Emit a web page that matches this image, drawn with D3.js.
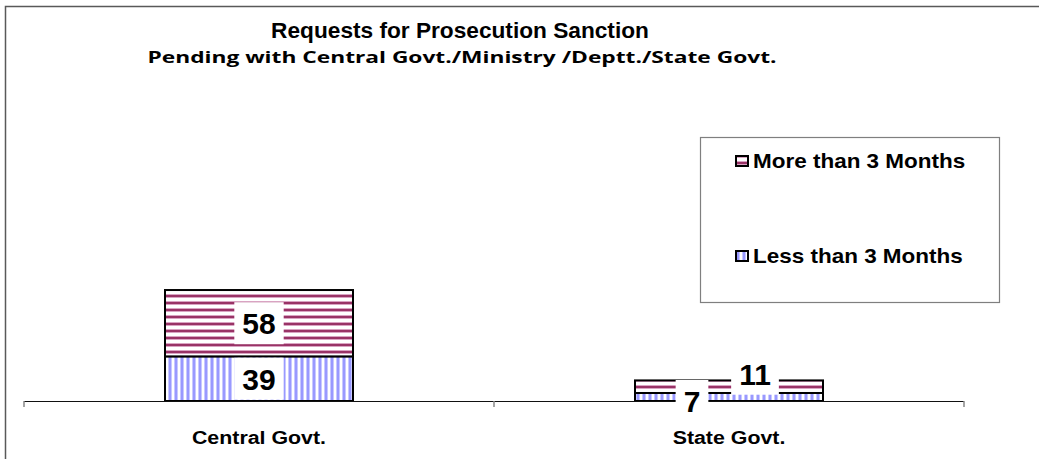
<!DOCTYPE html>
<html>
<head>
<meta charset="utf-8">
<script src="https://cdn.jsdelivr.net/npm/d3@7"></script>
<style>
  body { margin: 0; background: #fff; }
  svg { display: block; font-family: "Liberation Sans", Arial, sans-serif; }
</style>
</head>
<body>
<svg id="chart" width="1039" height="459"></svg>
<script>
// data
const categories = ["Central Govt.", "State Govt."];
const lessThan3 = [39, 7];
const moreThan3 = [58, 11];
const seriesNames = ["Less than 3 Months", "More than 3 Months"];

const svg = d3.select('#chart');
const W = 1039, H = 459;

// stretch text horizontally, the source image is a bit wide
function stretch(sel, factor){
    sel.each(function(){
        let w = this.getComputedTextLength();
        d3.select(this).attr('textLength', w * factor).attr('lengthAdjust', 'spacingAndGlyphs');
    });
}

// patterns
const defs = svg.append('defs');
let hp = defs.append('pattern').attr('id', 'hstripe').attr('patternUnits', 'userSpaceOnUse')
    .attr('width', 8).attr('height', 7);
hp.append('rect').attr('width', 8).attr('height', 7).attr('fill', '#fff');
hp.append('rect').attr('y', 0).attr('width', 8).attr('height', 1).attr('fill', '#d9a3c2');
hp.append('rect').attr('y', 1).attr('width', 8).attr('height', 2).attr('fill', '#993366');
hp.append('rect').attr('y', 3).attr('width', 8).attr('height', 1).attr('fill', '#d9a3c2');

let vp = defs.append('pattern').attr('id', 'vstripe').attr('patternUnits', 'userSpaceOnUse')
    .attr('width', 6).attr('height', 8);
vp.append('rect').attr('width', 6).attr('height', 8).attr('fill', '#fff');
vp.append('rect').attr('x', 0).attr('width', 1).attr('height', 8).attr('fill', '#c8c8ff');
vp.append('rect').attr('x', 1).attr('width', 2).attr('height', 8).attr('fill', '#9999ff');
vp.append('rect').attr('x', 3).attr('width', 1).attr('height', 8).attr('fill', '#c8c8ff');

const fills = {"Less than 3 Months": 'url(#vstripe)', "More than 3 Months": 'url(#hstripe)'};

// outer frame
svg.append('path').attr('d', `M5.5,${H} V6.5 H${W}`)
    .attr('fill', 'none').attr('stroke', '#595959').attr('stroke-width', 1.5);

// titles
let title = svg.append('text').attr('x', 460).attr('y', 38).attr('text-anchor', 'middle')
    .style('font-size', '22px').style('font-weight', 'bold').text('Requests for Prosecution Sanction');
stretch(title, 1.03);
let sub = svg.append('text').attr('x', 462).attr('y', 63).attr('text-anchor', 'middle')
    .style('font-family', '"Open Sans", sans-serif')
    .style('font-size', '16px').style('font-weight', 'bold')
    .text('Pending with Central Govt./Ministry /Deptt./State Govt.');
sub.attr('textLength', 629).attr('lengthAdjust', 'spacingAndGlyphs');

// scales
const x = d3.scaleBand().domain(categories).range([24, 964]).paddingInner(0.6).paddingOuter(0.3);
const y = d3.scaleLinear().domain([0, 100]).range([401, 286.6]);

const rows = categories.map((c, i) => ({cat: c, less: lessThan3[i], more: moreThan3[i]}));
const stack = d3.stack().keys(['less', 'more'])(rows);

// bars
let layers = svg.append('g').selectAll('g').data(stack).enter().append('g')
    .attr('fill', (d, i) => fills[seriesNames[i]]);
layers.selectAll('rect').data(d => d).enter().append('rect')
    .attr('x', d => x(d.data.cat))
    .attr('width', x.bandwidth())
    .attr('y', d => y(d[1]))
    .attr('height', d => y(d[0]) - y(d[1]))
    .attr('stroke', '#000').attr('stroke-width', 2);

// axis
const axisG = svg.append('g');
axisG.append('line').attr('x1', 24).attr('x2', 964).attr('y1', 401.5).attr('y2', 401.5)
    .attr('stroke', '#111').attr('stroke-width', 1.2);
const step = x.step();
[24, 24 + step, 24 + 2 * step].forEach(tx => {
    axisG.append('line').attr('x1', tx).attr('x2', tx).attr('y1', 401).attr('y2', 407)
        .attr('stroke', '#888').attr('stroke-width', 1.5);
});
let catLabels = axisG.selectAll('text.cat').data(categories).enter().append('text')
    .attr('x', d => x(d) + x.bandwidth() / 2).attr('y', 444)
    .attr('text-anchor', 'middle')
    .style('font-size', '17.5px').style('font-weight', 'bold')
    .text(d => d);
stretch(catLabels, 1.22);

// data labels
const nudge = {"State Govt.": {less: [-37, 4], more: [26, -13]}};
stack.forEach(layer => {
    layer.forEach(d => {
        let key = layer.key;
        let off = (nudge[d.data.cat] || {})[key] || [0, 0];
        let cx = x(d.data.cat) + x.bandwidth() / 2 + off[0];
        let cy = (y(d[0]) + y(d[1])) / 2 + off[1];
        let g = svg.append('g');
        let t = g.append('text').attr('x', cx).attr('y', cy + 11)
            .attr('text-anchor', 'middle')
            .style('font-size', '30px').style('font-weight', 'bold')
            .text(d.data[key]);
        let bb = t.node().getBBox();
        g.insert('rect', 'text').attr('x', bb.x - 8).attr('y', cy - 21)
            .attr('width', bb.width + 16).attr('height', 42).attr('fill', '#fff');
    });
});

// legend
const lg = svg.append('g');
lg.append('rect').attr('x', 700.5).attr('y', 137.5).attr('width', 299).attr('height', 165)
    .attr('fill', '#fff').attr('stroke', '#7f7f7f').attr('stroke-width', 1.2);
const legendItems = [seriesNames[1], seriesNames[0]];
let li = lg.selectAll('g.item').data(legendItems).enter().append('g')
    .attr('transform', (d, i) => `translate(736, ${168 + i * 95})`);
li.append('rect').attr('x', 0).attr('y', -12).attr('width', 12).attr('height', 10)
    .attr('fill', d => fills[d]).attr('stroke', '#000').attr('stroke-width', 2);
let legText = li.append('text').attr('x', 17).attr('y', 0)
    .style('font-size', '21px').style('font-weight', 'bold').text(d => d);
stretch(legText, 1.07);
</script>
</body>
</html>
